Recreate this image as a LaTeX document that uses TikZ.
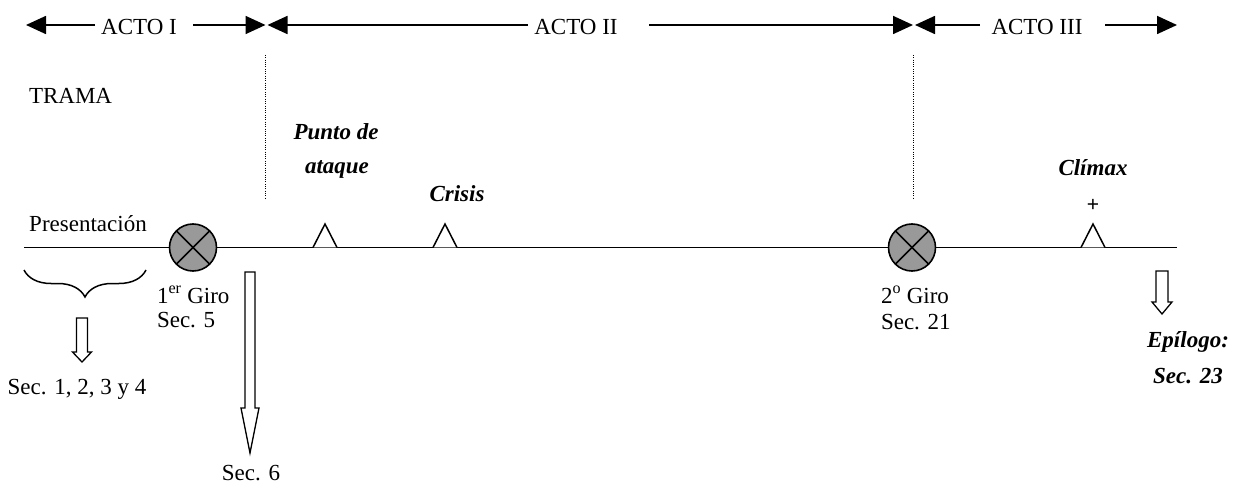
\documentclass[tikz,border=0pt]{standalone}
\usepackage{fontspec}
\setmainfont{Liberation Serif}
\newfontfamily\plusfont{Liberation Sans}
\usetikzlibrary{arrows.meta,decorations.pathreplacing}
\begin{document}
\begin{tikzpicture}[x=1pt,y=-1pt,
  every node/.style={inner sep=0pt,outer sep=0pt},
  txt/.style={font=\fontsize{23}{27}\selectfont},
  bit/.style={font=\fontsize{23}{27}\selectfont\bfseries\itshape},
  actline/.style={line width=1.7pt,-{Triangle[length=20pt,width=18pt]}},
  mainline/.style={line width=1.7pt},
  dotline/.style={line width=1pt,dash pattern=on 1pt off 1.3pt},
  giro/.style={circle,draw,line width=1.6pt,fill=black!40,minimum size=47pt},
  tri/.style={line width=1.5pt,fill=white,line join=miter},
  hollow/.style={line width=1.3pt,fill=white,line join=miter}
]
\useasboundingbox (0,0) rectangle (1245,497);

% --- acts header ---
\node[txt,anchor=base] (a1) at (139,35) {ACTO I};
\node[txt,anchor=base] (a2) at (576,35) {ACTO II};
\node[txt,anchor=base] (a3) at (1037,35) {ACTO III};
\coordinate (h0) at (26,25);
\coordinate (h1a) at (95,25);
\coordinate (h1b) at (193,25);
\coordinate (h2) at (265.5,25);
\coordinate (h3) at (267.5,25);
\coordinate (h4a) at (528,25);
\coordinate (h4b) at (649,25);
\coordinate (h5) at (913,25);
\coordinate (h6) at (915,25);
\coordinate (h7a) at (980,25);
\coordinate (h7b) at (1105,25);
\coordinate (h8) at (1177,25);
\draw[actline] (h1a) -- (h0);
\draw[actline] (h1b) -- (h2);
\draw[actline] (h4a) -- (h3);
\draw[actline] (h4b) -- (h5);
\draw[actline] (h7a) -- (h6);
\draw[actline] (h7b) -- (h8);

% --- dotted separators ---
\coordinate (d1t) at (265,55);
\coordinate (d1b) at (265,198);
\coordinate (d2t) at (913,55);
\coordinate (d2b) at (913,198);
\draw[dotline] (d1t) -- (d1b);
\draw[dotline] (d2t) -- (d2b);

% --- labels ---
\node[txt,anchor=base west] (trama) at (29,104) {TRAMA};
\node[bit,anchor=base] (pa1) at (336,140) {Punto de};
\node[bit,anchor=base] (pa2) at (337,174) {ataque};
\node[bit,anchor=base] (cri) at (457,202) {Crisis};
\node[bit,anchor=base] (cli) at (1093,176) {Clímax};
\node[anchor=center,font=\fontsize{21}{24}\plusfont] (plus) at (1093,205) {+};
\node[txt,anchor=base] (pres) at (88,232) {Presentación};

% --- main line ---
\coordinate (m0) at (24,247.5);
\coordinate (m1) at (1177,247.5);
\node[giro] (g1) at (193,247.5) {};
\node[giro] (g2) at (912,247.5) {};
\draw[mainline] (m0) -- (g1) -- (g2) -- (m1);
\foreach \g in {g1,g2}{
  \draw[line width=1.5pt] (\g.45) -- (\g.225);
  \draw[line width=1.5pt] (\g.135) -- (\g.315);
}
% triangles
\foreach \cx in {325,445,1093}{
  \draw[tri] (\cx-12,247.5) -- (\cx,224) -- (\cx+12,247.5);
}

% --- brace ---
\coordinate (b0) at (24,270);
\coordinate (b1) at (146,270);
\draw[line width=1.5pt,decorate,decoration={brace,mirror,amplitude=27pt,aspect=0.5}] (b0) -- (b1);

% --- giro labels ---
\node[txt,anchor=base west] (g1a) at (157,303) {1\textsuperscript{er} Giro};
\node[txt,anchor=base west] (g1b) at (157,327) {Sec. 5};
\node[txt,anchor=base west] (g2a) at (881,303) {2\textsuperscript{o} Giro};
\node[txt,anchor=base west] (g2b) at (881,329) {Sec. 21};

% --- hollow arrows ---
\draw[hollow] (76.5,318) -- (87.5,318) -- (87.5,352) -- (91.5,352) -- (82,362)
  -- (72.5,352) -- (76.5,352) -- cycle;
\draw[hollow] (245,272) -- (255,272) -- (255,408) -- (259,408) -- (250,453)
  -- (241,408) -- (245,408) -- cycle;
\draw[hollow] (1156,271) -- (1168,271) -- (1168,302) -- (1172,302) -- (1162,314)
  -- (1152,302) -- (1156,302) -- cycle;

\node[txt,anchor=base] (s14) at (77,394) {Sec. 1, 2, 3 y 4};
\node[txt,anchor=base] (s6) at (251,480) {Sec. 6};
\node[bit,anchor=base] (epi) at (1188,347) {Epílogo:};
\node[bit,anchor=base] (s23) at (1188,383) {Sec. 23};
\end{tikzpicture}
\end{document}
